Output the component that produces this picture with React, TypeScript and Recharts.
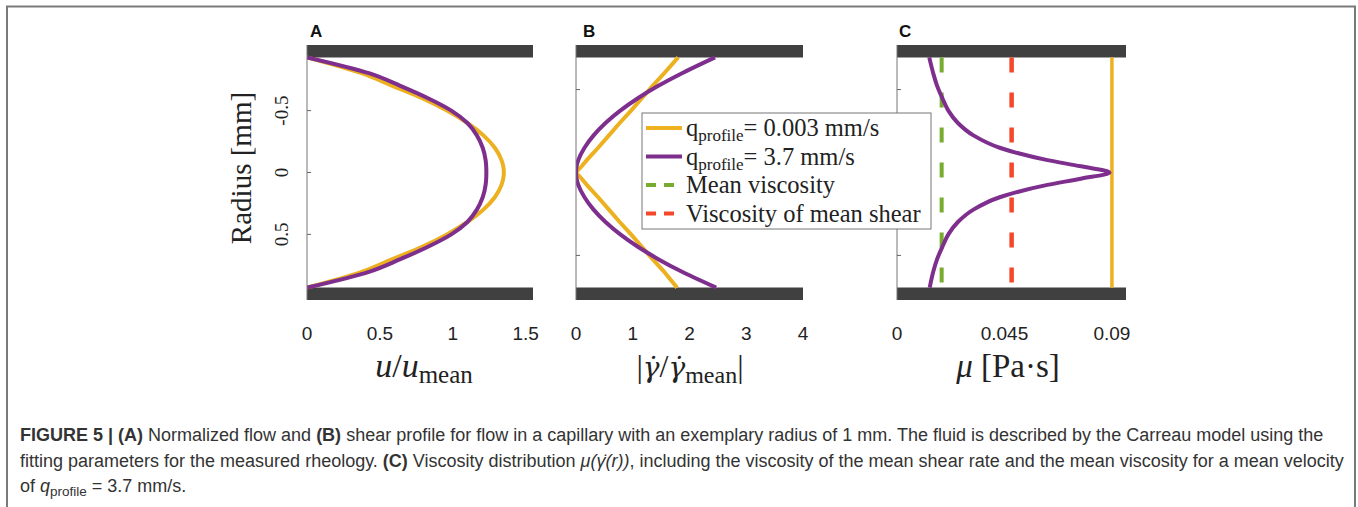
import { LineChart, Line, XAxis, YAxis, ReferenceArea } from 'recharts';

// radius positions (mm) shared by every profile
const RADIUS = [-0.93, -0.8, -0.7, -0.6, -0.5, -0.4, -0.3, -0.2, -0.1, -0.05, 0, 0.05, 0.1, 0.2, 0.3, 0.4, 0.5, 0.6, 0.7, 0.8, 0.93];

// (A) normalized flow u/u_mean
const FLOW_SLOW = [0, 0.38, 0.585, 0.79, 0.96, 1.1, 1.21, 1.288, 1.334, 1.346, 1.35, 1.346, 1.334, 1.288, 1.21, 1.1, 0.96, 0.79, 0.585, 0.38, 0];
const FLOW_FAST = [0, 0.43, 0.64, 0.83, 0.99, 1.1, 1.165, 1.205, 1.225, 1.229, 1.23, 1.229, 1.225, 1.205, 1.165, 1.1, 0.99, 0.83, 0.64, 0.43, 0];

// (B) normalized shear |gamma/gamma_mean|
const SHEAR_SLOW = [1.8, 1.55, 1.35, 1.16, 0.97, 0.77, 0.58, 0.39, 0.19, 0.1, 0, 0.1, 0.19, 0.39, 0.58, 0.77, 0.97, 1.16, 1.35, 1.55, 1.78];
const SHEAR_FAST = [2.45, 1.86, 1.45, 1.09, 0.78, 0.52, 0.31, 0.15, 0.04, 0.01, 0, 0.01, 0.04, 0.15, 0.31, 0.52, 0.78, 1.09, 1.45, 1.86, 2.47];

// (C) viscosity mu [Pa s]
const VISC_FAST = [0.0135, 0.0152, 0.0168, 0.019, 0.0215, 0.0255, 0.032, 0.043, 0.063, 0.077, 0.089, 0.077, 0.063, 0.043, 0.032, 0.0255, 0.0215, 0.019, 0.0168, 0.0152, 0.0137];
const VISC_SLOW = 0.09;
const MEAN_VISC = 0.0187;
const SHEAR_MEAN_VISC = 0.048;

const A_TICKS = [0, 0.5, 1, 1.5];
const B_TICKS = [0, 1, 2, 3, 4];
const C_TICKS = [0, 0.045, 0.09];
const R_TICKS_A = [-0.5, 0, 0.5];
const R_TICKS_BC = [-0.67, 0.67];

const ORANGE = '#EDB120';
const PURPLE = '#7E2F8E';
const GREEN = '#77AC30';
const RED = '#F5472A';
const WALL = '#404040';

const rowsA = RADIUS.map((r, i) => ({ r, slow: FLOW_SLOW[i], fast: FLOW_FAST[i] }));
const rowsB = RADIUS.map((r, i) => ({ r, slow: SHEAR_SLOW[i], fast: SHEAR_FAST[i] }));
const rowsC = RADIUS.map((r, i) => ({ r, slow: VISC_SLOW, fast: VISC_FAST[i], mean: MEAN_VISC, shear: SHEAR_MEAN_VISC }));

const SERIF = '"Liberation Serif", "DejaVu Serif", serif';
const SANS = '"Liberation Sans", Arial, sans-serif';
const MATH = '"DejaVu Serif", serif';

const SideTick = (props: any) => {
    const { x, y, payload, showLabel } = props;
    return (
        <g>
            <line x1={x} x2={x + 4} y1={y} y2={y} stroke="#666" strokeWidth={1} />
            {showLabel && (
                <text transform={`translate(${x - 19},${y}) rotate(-90)`} textAnchor="middle" fontSize={19} fontFamily={SERIF} fill="#222">
                    {payload.value}
                </text>
            )}
        </g>
    );
};

function Panel({ data, left, yWidth, plotWidth, xDomain, xTicks, rTicks, showRLabels, children }: any) {
    return (
        <div style={{ position: 'absolute', left, top: 0 }}>
            <LineChart
                width={yWidth + plotWidth + 24}
                height={360}
                data={data}
                layout="vertical"
                margin={{ top: 45, right: 24, left: 0, bottom: 0 }}
            >
                <XAxis
                    type="number"
                    domain={xDomain}
                    ticks={xTicks}
                    allowDataOverflow
                    height={60}
                    axisLine={false}
                    tickLine={false}
                    tickMargin={21}
                    interval={0}
                    tick={{ fontSize: 19, fill: '#222', fontFamily: SANS }}
                />
                <YAxis
                    type="number"
                    dataKey="r"
                    domain={[-1.03, 1.03]}
                    ticks={rTicks}
                    interval={0}
                    width={yWidth}
                    tickSize={0}
                    tickMargin={0}
                    tickLine={false}
                    axisLine={{ stroke: '#777', strokeWidth: 1 }}
                    tick={<SideTick showLabel={showRLabels} />}
                />
                {children}
                <ReferenceArea y1={-1.03} y2={-0.93} fill={WALL} fillOpacity={1} stroke="none" />
                <ReferenceArea y1={0.93} y2={1.03} fill={WALL} fillOpacity={1} stroke="none" />
            </LineChart>
        </div>
    );
}

const LEGEND_ROWS = [
    { color: ORANGE, dash: undefined, label: 'slow' },
    { color: PURPLE, dash: undefined, label: 'fast' },
    { color: GREEN, dash: '10 8', label: 'Mean viscosity' },
    { color: RED, dash: '10 8', label: 'Viscosity of mean shear' },
];

export default function App() {
    return (
        <div style={{ position: 'absolute', left: 0, top: 0, width: 1358, height: 507, background: '#fff', overflow: 'hidden' }}>
            <Panel data={rowsA} left={247} yWidth={60} plotWidth={226} xDomain={[0, 1.55]} xTicks={A_TICKS} rTicks={R_TICKS_A} showRLabels>
                <Line type="monotone" dataKey="slow" stroke={ORANGE} strokeWidth={4} dot={false} activeDot={false} isAnimationActive={false} />
                <Line type="monotone" dataKey="fast" stroke={PURPLE} strokeWidth={4} dot={false} activeDot={false} isAnimationActive={false} />
            </Panel>
            <Panel data={rowsB} left={566} yWidth={10} plotWidth={227} xDomain={[0, 4]} xTicks={B_TICKS} rTicks={R_TICKS_BC} showRLabels={false}>
                <Line type="linear" dataKey="slow" stroke={ORANGE} strokeWidth={4} dot={false} activeDot={false} isAnimationActive={false} />
                <Line type="monotone" dataKey="fast" stroke={PURPLE} strokeWidth={4} dot={false} activeDot={false} isAnimationActive={false} />
            </Panel>
            <Panel data={rowsC} left={887} yWidth={10} plotWidth={229} xDomain={[0, 0.0959]} xTicks={C_TICKS} rTicks={R_TICKS_BC} showRLabels={false}>
                <Line type="linear" dataKey="slow" stroke={ORANGE} strokeWidth={3.5} dot={false} activeDot={false} isAnimationActive={false} />
                <Line type="linear" dataKey="mean" stroke={GREEN} strokeWidth={4} strokeDasharray="15 20" dot={false} activeDot={false} isAnimationActive={false} />
                <Line type="linear" dataKey="shear" stroke={RED} strokeWidth={4.5} strokeDasharray="15 20" dot={false} activeDot={false} isAnimationActive={false} />
                <Line type="monotone" dataKey="fast" stroke={PURPLE} strokeWidth={4} dot={false} activeDot={false} isAnimationActive={false} />
            </Panel>

            <svg width={1358} height={507} style={{ position: 'absolute', left: 0, top: 0, pointerEvents: 'none' }}>
                <path d="M7,507 V6.5 H1355 V507" fill="none" stroke="#7a7a7a" strokeWidth={2} />

                <g fontFamily={SANS} fontWeight="bold" fontSize={17} fill="#111">
                    <text x={310} y={37}>A</text>
                    <text x={583} y={37}>B</text>
                    <text x={899} y={37}>C</text>
                </g>

                <g fontFamily={SERIF} fill="#222">
                    <text transform="translate(251,168) rotate(-90)" textAnchor="middle" fontSize={29}>Radius [mm]</text>
                    <text x={424} y={377} textAnchor="middle" fontSize={34}>
                        <tspan fontStyle="italic">u</tspan>/<tspan fontStyle="italic">u</tspan>
                        <tspan fontSize={25} dy={6}>mean</tspan>
                    </text>
                    <text x={690} y={377} textAnchor="middle" fontSize={32}>
                        |<tspan fontStyle="italic" fontFamily={MATH} fontSize={28}>{'\u03B3\u0307'}</tspan>/<tspan fontStyle="italic" fontFamily={MATH} fontSize={28}>{'\u03B3\u0307'}</tspan>
                        <tspan fontSize={24} dy={6}>mean</tspan>
                        <tspan dy={-6}>|</tspan>
                    </text>
                    <text x={1008} y={377} textAnchor="middle" fontSize={33}>
                        <tspan fontStyle="italic">{'\u03BC'}</tspan> [Pa{'\u00B7'}s]
                    </text>
                </g>

                <g>
                    <rect x={642} y={113} width={289} height={116} fill="#fff" stroke="#777" strokeWidth={1} />
                    {LEGEND_ROWS.map((row, i) => {
                        const cy = 128 + i * 28.5;
                        return (
                            <g key={i}>
                                <line x1={646} x2={682} y1={cy} y2={cy} stroke={row.color} strokeWidth={4} strokeDasharray={row.dash} />
                                <text x={686} y={cy + 8} fontFamily={SERIF} fontSize={24.5} fill="#222">
                                    {i === 0 && (<>q<tspan fontSize={17} dy={5}>profile</tspan><tspan dy={-5}>= 0.003 mm/s</tspan></>)}
                                    {i === 1 && (<>q<tspan fontSize={17} dy={5}>profile</tspan><tspan dy={-5}>= 3.7 mm/s</tspan></>)}
                                    {i > 1 && row.label}
                                </text>
                            </g>
                        );
                    })}
                </g>

                <g fontFamily={SANS} fontSize={18} fill="#333">
                    <text x={20} y={441}>
                        <tspan fontWeight="bold">FIGURE 5 | (A)</tspan> Normalized flow and <tspan fontWeight="bold">(B)</tspan> shear profile for flow in a capillary with an exemplary radius of 1 mm. The fluid is described by the Carreau model using the
                    </text>
                    <text x={20} y={467}>
                        fitting parameters for the measured rheology. <tspan fontWeight="bold">(C)</tspan> Viscosity distribution <tspan fontStyle="italic">{'\u03BC(\u03B3\u0307(r))'}</tspan>, including the viscosity of the mean shear rate and the mean viscosity for a mean velocity
                    </text>
                    <text x={20} y={492}>
                        of <tspan fontStyle="italic">q</tspan><tspan fontSize={13.5} dy={4}>profile</tspan><tspan dy={-4}> = 3.7 mm/s.</tspan>
                    </text>
                </g>
            </svg>
        </div>
    );
}
